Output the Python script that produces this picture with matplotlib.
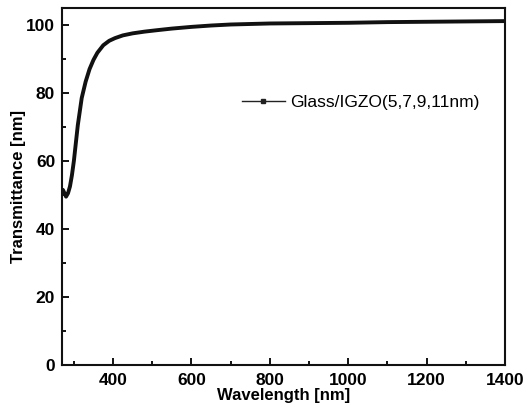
import matplotlib
matplotlib.use("Agg")
import matplotlib.pyplot as plt
from matplotlib.lines import Line2D
from matplotlib.ticker import MultipleLocator

plt.rcParams['font.family'] = ['Liberation Sans', 'DejaVu Sans']

# transmittance spectrum
wavelength = [272, 280, 285, 290, 295, 300, 310, 320, 330, 340, 350, 360, 375,
              390, 405, 425, 450, 480, 510, 550, 600, 650, 700, 800, 900,
              1000, 1100, 1200, 1300, 1400]
transmittance = [51.5, 49.5, 50.5, 52.5, 55.8, 60.0, 70.5, 78.5, 83.3, 87.0,
                 89.7, 91.8, 94.0, 95.3, 96.1, 96.9, 97.5, 98.0, 98.4, 98.9,
                 99.4, 99.8, 100.1, 100.4, 100.5, 100.6, 100.8, 100.9, 101.0,
                 101.1]
series_label = "Glass/IGZO(5,7,9,11nm)"

fig = plt.figure(figsize=(5.31, 4.12), dpi=100)
ax = fig.add_axes([0.117, 0.114, 0.834, 0.867])

ax.plot(wavelength, transmittance, color='#111111', lw=2.8,
        solid_capstyle='round')

ax.set_xlim(270, 1400)
ax.set_ylim(0, 105)
ax.xaxis.set_major_locator(MultipleLocator(200))
ax.xaxis.set_minor_locator(MultipleLocator(100))
ax.yaxis.set_major_locator(MultipleLocator(20))
ax.yaxis.set_minor_locator(MultipleLocator(10))
ax.tick_params(which='both', direction='in', top=False, right=False,
               width=1.3, labelsize=12.5)
ax.tick_params(which='major', length=5)
ax.tick_params(which='minor', length=3)
ax.tick_params(axis='x', pad=6)
ax.tick_params(axis='y', pad=5)
for lab in ax.get_xticklabels() + ax.get_yticklabels():
    lab.set_fontweight('bold')
for sp in ax.spines.values():
    sp.set_linewidth(1.5)
    sp.set_color('#111111')

ax.set_xlabel("Wavelength [nm]", fontsize=12, fontweight='bold', labelpad=0)
ax.set_ylabel("Transmittance [nm]", fontsize=12, fontweight='bold', labelpad=0)

handle = Line2D([], [], color='#222222', lw=1.0, marker='s', markersize=3)
ax.legend([handle], [series_label], loc='center left',
          bbox_to_anchor=(0.386, 0.735), frameon=False, fontsize=12.5,
          handlelength=2.5, handletextpad=0.3, borderpad=0)

fig.savefig("out.png", dpi=100)
